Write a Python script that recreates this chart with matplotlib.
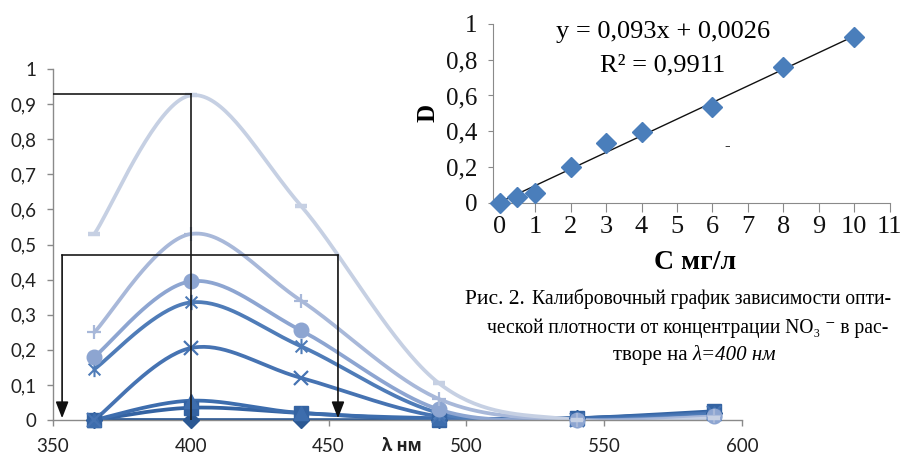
import numpy as np
import matplotlib
matplotlib.use('Agg')
import matplotlib.pyplot as plt
from matplotlib.path import Path
from matplotlib.ticker import FuncFormatter

# wavelength, nm
wavelengths = [365, 400, 440, 490, 540, 590]

# optical density spectra of the standards (diamond = blank ... dash = highest)
d_diamond = [0.0, 0.0, 0.0, 0.0, 0.005, 0.02]
d_square = [0.0, 0.035, 0.02, 0.0, 0.005, 0.025]
d_triangle = [0.0, 0.055, 0.02, 0.005, 0.005, 0.02]
d_x = [0.0, 0.205, 0.12, 0.01, 0.0, 0.02]
d_star = [0.145, 0.335, 0.21, 0.02, 0.0, 0.015]
d_circle = [0.18, 0.395, 0.255, 0.03, 0.0, 0.01]
d_plus = [0.25, 0.53, 0.34, 0.06, 0.0, 0.01]
d_dash = [0.53, 0.925, 0.61, 0.105, 0.0, 0.005]

# construction lines on the spectra
peak_d = 0.93
peak_wl = 400
half_d = 0.47
half_left = 353.3
half_right = 453.4

# calibration at 400 nm
conc = [0, 0.5, 1, 2, 3, 4, 6, 8, 10]
d_400 = [0.0, 0.03, 0.055, 0.2, 0.332, 0.394, 0.534, 0.761, 0.929]
fit_slope = 0.093
fit_icept = 0.0026

W, H = 902, 454


def px(x, y):
    # pixel position -> figure fraction
    return x / W, 1 - y / H


def excel_smooth(x, y, n=40):
    # bezier smoothing like the "smoothed line" option in Excel
    pts = np.column_stack([x, y]).astype(float)
    out = []
    for i in range(len(pts) - 1):
        p0 = pts[max(i - 1, 0)]
        p1 = pts[i]
        p2 = pts[i + 1]
        p3 = pts[min(i + 2, len(pts) - 1)]
        c1 = p1 + (p2 - p0) / 6
        c2 = p2 - (p3 - p1) / 6
        t = np.linspace(0, 1, n)[:, None]
        seg = (1 - t) ** 3 * p1 + 3 * (1 - t) ** 2 * t * c1 + 3 * (1 - t) * t ** 2 * c2 + t ** 3 * p2
        out.append(seg if i == 0 else seg[1:])
    s = np.vstack(out)
    return s[:, 0], s[:, 1]


def comma(v, pos):
    s = ('%.1f' % v).rstrip('0').rstrip('.')
    return s.replace('.', ',')


# Excel "star" marker: an x with a vertical bar through it
star = Path([(-1, -1), (1, 1), (-1, 1), (1, -1), (0, -1.3), (0, 1.3)],
            [Path.MOVETO, Path.LINETO, Path.MOVETO, Path.LINETO, Path.MOVETO, Path.LINETO])

series = [
    (d_diamond, '#2B5893', 'D', 8, 1.0),
    (d_square, '#3463A2', 's', 10, 1.0),
    (d_triangle, '#3D6DAD', '^', 10, 1.0),
    (d_x, '#4673B2', 'x', 10, 1.6),
    (d_star, '#4F7CB8', star, 11, 1.5),
    (d_circle, '#8DA5D1', 'o', 10.5, 1.0),
    (d_plus, '#A8B8D9', '+', 10, 1.6),
    (d_dash, '#C6D0E3', '_', 8, 3.2),
]

fig = plt.figure(figsize=(W / 100, H / 100), dpi=100)

# ---- spectra ----
ax = fig.add_axes([53 / W, 1 - 420 / H, (742 - 53) / W, (420 - 69) / H])
for vals, col, mk, ms, mew in series:
    sx, sy = excel_smooth(wavelengths, vals)
    ax.plot(sx, sy, color=col, lw=2.7, solid_capstyle='round', zorder=2)
    ax.plot(wavelengths, vals, ls='none', marker=mk, ms=ms, color=col,
            mec=col, mew=mew, zorder=3, clip_on=False)

ax.plot([350, peak_wl], [peak_d, peak_d], color='#1a1a1a', lw=1.2, zorder=5)
ax.plot([peak_wl, peak_wl], [peak_d, 0], color='#1a1a1a', lw=1.2, zorder=5)
ax.plot([half_left, half_right], [half_d, half_d], color='#1a1a1a', lw=1.2, zorder=5)
for xa in (half_left, half_right):
    ax.annotate('', xy=(xa, 0.005), xytext=(xa, half_d),
                arrowprops=dict(arrowstyle='-|>,head_length=0.9,head_width=0.35',
                                color='#111111', lw=1.2, shrinkA=0, shrinkB=0,
                                mutation_scale=11), zorder=6)

ax.set_xlim(350, 600)
ax.set_ylim(0, 1)
ax.set_xticks(np.arange(350, 601, 50))
ax.set_yticks(np.arange(0, 1.01, 0.1))
ax.yaxis.set_major_formatter(FuncFormatter(comma))
for sp in ('top', 'right'):
    ax.spines[sp].set_visible(False)
for sp in ('left', 'bottom'):
    ax.spines[sp].set_color('#8a8a8a')
    ax.spines[sp].set_linewidth(1.0)
ax.tick_params(colors='#8a8a8a', labelcolor='#222222', length=4, width=1.0,
               labelsize=13.5)
ax.tick_params(axis='x', pad=9)
ax.tick_params(axis='y', pad=8)
for lab in ax.get_xticklabels() + ax.get_yticklabels():
    lab.set_family(['Lato', 'DejaVu Sans'])
ax.set_xlabel('λ нм', family=['Open Sans', 'DejaVu Sans'], fontweight='bold',
              fontsize=12, color='#222222', va='center', ha='center')
ax.xaxis.set_label_coords((402 - 53) / (742 - 53), (420 - 446) / (420 - 69))
ax.patch.set_alpha(0)

# ---- calibration inset ----
ax2 = fig.add_axes([493.3 / W, 1 - 202.7 / H, 396.4 / W, 178.7 / H])
ax2.patch.set_alpha(0)
fx = np.array([conc[0], conc[-1]], dtype=float)
ax2.plot(fx, fit_slope * fx + fit_icept, color='#111111', lw=1.0, zorder=2)
ax2.plot(conc, d_400, ls='none', marker='D', ms=10, color='#4A7EBB', zorder=3,
         clip_on=False)
ax2.set_xlim(-0.18, 11)
ax2.set_ylim(0, 1)
ax2.set_xticks(range(0, 12))
ax2.set_yticks(np.arange(0, 1.01, 0.2))
ax2.yaxis.set_major_formatter(FuncFormatter(comma))
for sp in ('top', 'right'):
    ax2.spines[sp].set_visible(False)
for sp in ('left', 'bottom'):
    ax2.spines[sp].set_color('#8a8a8a')
ax2.tick_params(axis='x', colors='#8a8a8a', labelcolor='#111111', length=6.5,
                labelsize=19, pad=3)
ax2.tick_params(axis='y', colors='#8a8a8a', labelcolor='#111111', length=3.5,
                labelsize=18, pad=8)
for lab in ax2.get_xticklabels() + ax2.get_yticklabels():
    lab.set_family('Liberation Serif')
ax2.set_xlabel('С мг/л', family='Liberation Serif', fontweight='bold', fontsize=20,
               va='center', ha='center')
ax2.xaxis.set_label_coords((695 - 493.3) / 396.4, (202.7 - 262) / 178.7)
ax2.set_ylabel('D', family='Liberation Serif', fontweight='bold', fontsize=18,
               va='center', ha='center')
ax2.yaxis.set_label_coords((428 - 493.3) / 396.4, (202.7 - 113) / 178.7)
ax2.text((663 - 493.3) / 396.4, (202.7 - 32) / 178.7, 'y = 0,093x + 0,0026',
         transform=ax2.transAxes, ha='center', va='center',
         family='Liberation Serif', fontsize=19)
ax2.text((663 - 493.3) / 396.4, (202.7 - 65) / 178.7, 'R² = 0,9911',
         transform=ax2.transAxes, ha='center', va='center',
         family='Liberation Serif', fontsize=19)
fig.text(*px(727, 146), '-', family='Liberation Serif', fontsize=12,
         ha='center', va='center')

# ---- caption ----
serif = ['Liberation Serif', 'DejaVu Serif']
fig.text(*px(465, 304), 'Рис. 2.', family=serif, fontsize=15.5, va='baseline')
fig.text(*px(532, 304), 'Калибровочный график зависимости опти-', family=serif,
         fontsize=14.1, va='baseline')
fig.text(*px(487, 333), 'ческой плотности от концентрации NO₃ ⁻ в рас-',
         family=serif, fontsize=14.1, va='baseline')
fig.text(*px(688, 360), 'творе на', family=serif, fontsize=15, va='baseline',
         ha='right')
fig.text(*px(693, 360), 'λ=400 нм', family=serif, fontsize=15, style='italic',
         va='baseline', ha='left')

fig.savefig('out.png', dpi=100)
